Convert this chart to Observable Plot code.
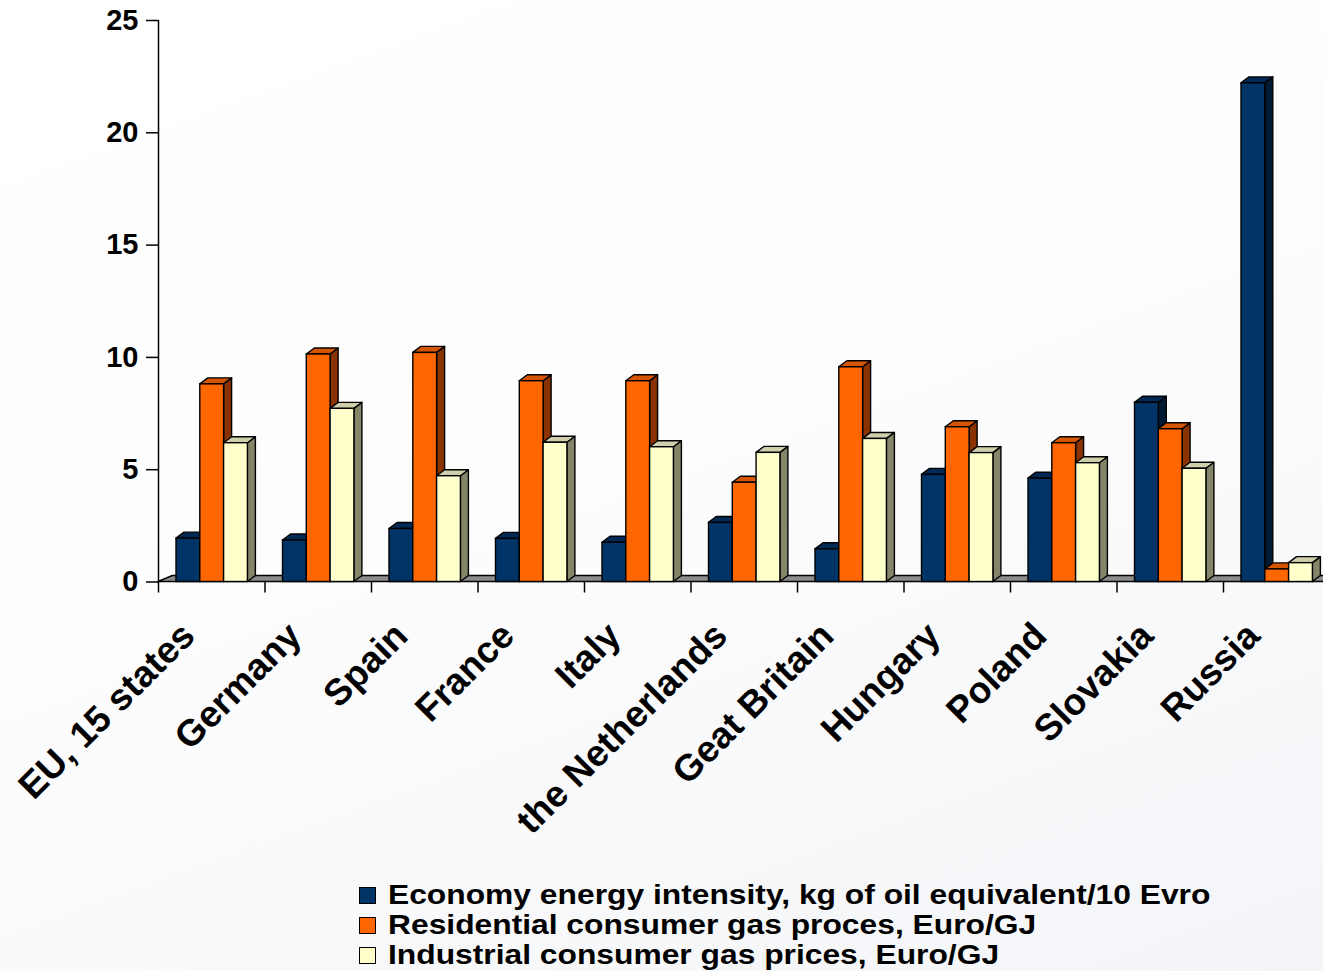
<!DOCTYPE html>
<html>
<head>
<meta charset="utf-8">
<script src="https://cdn.jsdelivr.net/npm/d3@7"></script>
<script src="https://cdn.jsdelivr.net/npm/@observablehq/plot@0.6"></script>
<style>
  html, body { margin: 0; padding: 0; background: #ffffff; }
  body { width: 1323px; height: 971px; overflow: hidden; font-family: "Liberation Sans", Arial, sans-serif;
         background: linear-gradient(160deg, #ffffff 0%, #fdfdfe 45%, #f4f5f8 100%); }
  #chart svg { display: block; background: transparent; }
  #legend { margin-left: 359px; font-weight: bold; font-size: 28px; line-height: 30px; color: #000; }
  #legend div { display: flex; align-items: center; white-space: nowrap; height: 30px; }
  #legend span.sw { display: inline-block; width: 15px; height: 15px; border: 1.5px solid #000; margin-right: 12px; flex: none; }
  #legend span.lt { display: inline-block; transform: scaleX(1.135); transform-origin: 0 50%; }
</style>
</head>
<body>
<div id="chart"></div>
<div id="legend"></div>
<script>
const categories = ["EU, 15 states", "Germany", "Spain", "France", "Italy", "the Netherlands",
                    "Geat Britain", "Hungary", "Poland", "Slovakia", "Russia"];
const energyIntensity   = [1.93, 1.85, 2.36, 1.92, 1.75, 2.63, 1.46, 4.77, 4.6, 7.98, 22.2];
const residentialPrices = [8.8, 10.13, 10.2, 8.94, 8.94, 4.42, 9.56, 6.89, 6.18, 6.8, 0.56];
const industrialPrices  = [6.18, 7.71, 4.71, 6.2, 6.0, 5.75, 6.37, 5.74, 5.29, 5.04, 0.84];
const seriesNames = [
  "Economy energy intensity, kg of oil equivalent/10 Evro",
  "Residential consumer gas proces, Euro/GJ",
  "Industrial consumer gas prices, Euro/GJ"
];
const frontColors = ["#003366", "#FF6600", "#FFFFCC"];
const topColors   = ["#002a55", "#D65500", "#CFCFAC"];
const sideColors  = ["#001a33", "#8A3300", "#85856A"];
const yTicks = [0, 5, 10, 15, 20, 25];

const seriesValues = [energyIntensity, residentialPrices, industrialPrices];

// geometry (in data units of the x band index / y value scale)
const xRange = [158, 1329.5], yRange = [581.5, 20];
const pxPerX = (xRange[1] - xRange[0]) / categories.length;
const pxPerY = (yRange[0] - yRange[1]) / 25;
const depthX = 8 / pxPerX, depthY = 6 / pxPerY;
const barW = 23.8 / pxPerX, groupOffset = 18 / pxPerX;

const bars = seriesValues.map((vals, s) => vals.map((v, i) => {
  const x0 = i + groupOffset + s * barW;
  return {s, i, v, x0, x1: x0 + barW};
}));

const sidePts = bars.map(arr => arr.flatMap(b => [
  {i: b.i, x: b.x1, y1: 0, y2: b.v},
  {i: b.i, x: b.x1 + depthX, y1: depthY, y2: b.v + depthY}
]));
const topPts = bars.map(arr => arr.flatMap(b => [
  {i: b.i, y: b.v, x1: b.x0, x2: b.x1},
  {i: b.i, y: b.v + depthY, x1: b.x0 + depthX, x2: b.x1 + depthX}
]));
const floorPts = [
  {y: 0, x1: 0, x2: categories.length + 0.2},
  {y: depthY, x1: depthX * 1.8, x2: categories.length + 0.2 + depthX}
];

const sw = 1.4;
const marks = [
  Plot.areaX(floorPts, {y: "y", x1: "x1", x2: "x2", fill: "#8c8c8c", stroke: "#000", strokeWidth: sw})
];
for (let s = 0; s < 3; s++) {
  marks.push(
    Plot.areaY(sidePts[s], {x: "x", y1: "y1", y2: "y2", z: "i", fill: sideColors[s], stroke: "#000", strokeWidth: sw, strokeLinejoin: "round"}),
    Plot.areaX(topPts[s], {y: "y", x1: "x1", x2: "x2", z: "i", fill: topColors[s], stroke: "#000", strokeWidth: sw, strokeLinejoin: "round"}),
    Plot.rect(bars[s], {x1: "x0", x2: "x1", y1: 0, y2: "v", fill: frontColors[s], stroke: "#000", strokeWidth: sw})
  );
}
marks.push(
  Plot.ruleX([0], {y1: 0, y2: 25, stroke: "#000", strokeWidth: 1.5}),
  Plot.axisY({ticks: yTicks, tickSize: 12, tickPadding: 8, tickFormat: d3.format("d"),
              fontSize: 29, fontWeight: "bold", label: null, stroke: "#000", strokeWidth: 1.5}),
  Plot.axisX({ticks: d3.range(categories.length + 1), tickSize: 11, tickFormat: () => "",
              label: null, stroke: "#000", strokeWidth: 1.5}),
  Plot.text(categories, {x: (d, i) => i + 0.5, frameAnchor: "bottom", text: d => d,
                         rotate: -45, textAnchor: "end", dx: -15, dy: 56,
                         fontSize: 37, fontWeight: "bold", fill: "#000"})
);

const chart = Plot.plot({
  width: 1323,
  height: 880,
  marginLeft: 158,
  marginRight: 0,
  marginTop: 20,
  marginBottom: 298.5,
  style: {fontFamily: "'Liberation Sans', Arial, sans-serif", color: "#000", background: "transparent", overflow: "visible"},
  x: {domain: [0, categories.length], range: xRange, axis: null},
  y: {domain: [0, 25], range: yRange, axis: null},
  marks
});
document.getElementById("chart").appendChild(chart);

const legend = document.getElementById("legend");
seriesNames.forEach((name, s) => {
  const row = document.createElement("div");
  const box = document.createElement("span");
  box.className = "sw";
  box.style.background = frontColors[s];
  const txt = document.createElement("span");
  txt.className = "lt";
  txt.textContent = name;
  row.appendChild(box);
  row.appendChild(txt);
  legend.appendChild(row);
});
</script>
</body>
</html>
